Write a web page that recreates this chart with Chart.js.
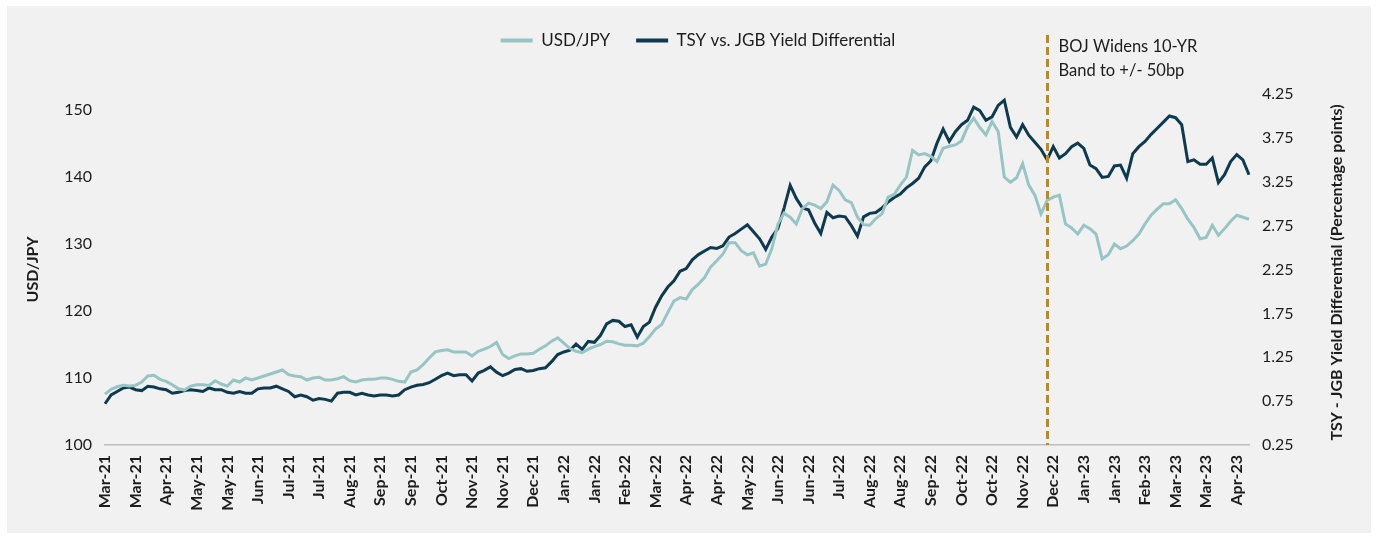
<!DOCTYPE html>
<html>
<head>
<meta charset="utf-8">
<script src="https://cdn.jsdelivr.net/npm/chart.js@4.4.1/dist/chart.umd.min.js"></script>
<style>
    html, body { margin: 0; padding: 0; background: #fff; }
    #panel { position: absolute; left: 7px; top: 6px; width: 1364px; height: 527px; background: #f1f1f1; }
    #wrap { position: absolute; left: 0; top: 0; width: 1377px; height: 538px; }
</style>
</head>
<body>
<div id="panel"></div>
<div id="wrap"><canvas id="fxChart"></canvas></div>
<script>
// ==================== DATA ====================
// one point every 3 business days, a date label every 5th point
const TICK_EVERY = 5;
const BOJ_INDEX = 154;

const tickLabels = ['Mar-21','Mar-21','Apr-21','May-21','May-21','Jun-21','Jul-21','Jul-21','Aug-21','Sep-21',
    'Sep-21','Oct-21','Nov-21','Nov-21','Dec-21','Jan-22','Jan-22','Feb-22','Mar-22','Apr-22',
    'Apr-22','May-22','Jun-22','Jun-22','Jul-22','Aug-22','Aug-22','Sep-22','Oct-22','Oct-22',
    'Nov-22','Dec-22','Jan-23','Jan-23','Feb-23','Mar-23','Mar-23','Apr-23'];

const usdJpy = [107.6,108.3,108.7,108.9,108.8,108.9,109.4,110.3,110.4,109.8,
    109.5,109.0,108.4,108.2,108.8,109.0,109.0,108.9,109.6,109.1,
    108.8,109.7,109.4,110.0,109.7,110.0,110.3,110.6,110.9,111.2,
    110.5,110.3,110.2,109.7,110.0,110.1,109.7,109.7,109.9,110.2,
    109.6,109.4,109.7,109.8,109.8,110.0,110.0,109.8,109.5,109.4,
    110.9,111.2,112.0,113.0,113.9,114.1,114.2,113.9,113.9,113.9,
    113.3,114.0,114.3,114.7,115.3,113.5,112.9,113.3,113.6,113.6,
    113.7,114.3,114.8,115.5,116.0,115.2,114.4,114.0,113.8,114.3,
    114.7,115.0,115.5,115.4,115.1,114.9,114.9,114.8,115.2,116.2,
    117.3,118.0,119.8,121.5,122.0,121.8,123.2,124.0,125.0,126.6,
    127.5,128.5,130.2,130.2,129.0,128.4,128.7,126.7,127.0,129.3,
    133.0,134.6,134.0,133.0,135.3,136.1,135.8,135.3,136.3,138.8,
    138.0,136.6,136.2,134.0,132.9,132.8,133.8,134.5,137.0,137.4,
    138.8,140.0,144.0,143.3,143.5,143.1,142.3,144.3,144.6,144.8,
    145.4,147.5,148.8,147.4,146.3,148.3,146.8,140.0,139.2,139.9,
    142.0,138.8,137.3,134.5,136.5,137.0,137.3,133.0,132.4,131.5,
    132.8,132.3,131.5,127.8,128.4,130.0,129.3,129.7,130.5,131.5,
    133.0,134.3,135.2,136.0,136.0,136.6,135.3,133.7,132.5,130.8,
    131.0,132.8,131.3,132.3,133.4,134.3,134.0,133.7];

const yieldDiff = [0.72,0.82,0.86,0.90,0.91,0.88,0.87,0.92,0.91,0.89,
    0.88,0.84,0.85,0.87,0.88,0.87,0.86,0.90,0.88,0.88,
    0.85,0.84,0.86,0.84,0.84,0.89,0.90,0.90,0.92,0.89,
    0.86,0.80,0.82,0.80,0.76,0.78,0.77,0.75,0.84,0.85,
    0.85,0.82,0.84,0.82,0.81,0.82,0.82,0.81,0.82,0.88,
    0.91,0.93,0.94,0.96,1.00,1.04,1.07,1.04,1.05,1.05,
    0.98,1.07,1.10,1.14,1.08,1.04,1.07,1.11,1.12,1.09,
    1.10,1.12,1.13,1.20,1.28,1.31,1.33,1.40,1.34,1.43,
    1.42,1.50,1.63,1.67,1.66,1.60,1.62,1.48,1.60,1.65,
    1.82,1.95,2.05,2.12,2.23,2.26,2.36,2.42,2.46,2.50,
    2.49,2.52,2.62,2.66,2.71,2.76,2.68,2.60,2.48,2.62,
    2.72,2.95,3.21,3.06,2.95,2.93,2.78,2.66,2.90,2.84,
    2.86,2.85,2.75,2.63,2.85,2.89,2.90,2.95,3.02,3.07,
    3.11,3.18,3.23,3.29,3.42,3.49,3.69,3.85,3.71,3.82,
    3.90,3.95,4.10,4.06,3.95,3.99,4.12,4.18,3.87,3.76,
    3.90,3.78,3.70,3.62,3.50,3.65,3.52,3.57,3.65,3.69,
    3.63,3.44,3.40,3.30,3.31,3.43,3.44,3.29,3.57,3.65,
    3.71,3.79,3.86,3.93,4.00,3.98,3.90,3.48,3.50,3.45,
    3.45,3.52,3.24,3.33,3.48,3.56,3.50,3.33];

const labels = usdJpy.map((_, i) => i % TICK_EVERY === 0 ? tickLabels[i / TICK_EVERY] : '');

// ==================== STYLE ====================
const FONT = 'Lato, "Open Sans", sans-serif';
const TEXT = '#1c1c1c';
const LIGHT = '#97c5c4';
const DARK = '#0d3a4f';
const GOLD = '#b98a2e';

// ==================== PLUGINS ====================
// push the plot area down below the legend
const legendGap = {
    id: 'legendGap',
    afterInit(chart) {
        const fit = chart.legend.fit;
        chart.legend.fit = function () {
            fit.call(this);
            this.height += 35;
        };
    }
};

// BOJ marker + right axis title (reads bottom to top)
const extras = {
    id: 'extras',
    afterDatasetsDraw(chart) {
        const { ctx, chartArea, scales } = chart;
        const x = Math.round(scales.x.getPixelForValue(BOJ_INDEX)) + 0.5;

        ctx.save();
        ctx.strokeStyle = GOLD;
        ctx.lineWidth = 3;
        ctx.setLineDash([8, 4]);
        ctx.beginPath();
        ctx.moveTo(x, 35);
        ctx.lineTo(x, chartArea.bottom);
        ctx.stroke();
        ctx.setLineDash([]);

        ctx.fillStyle = TEXT;
        ctx.font = '16.5px ' + FONT;
        ctx.textAlign = 'left';
        ctx.textBaseline = 'middle';
        ctx.fillText('BOJ Widens 10-YR', x + 11, 47);
        ctx.fillText('Band to +/- 50bp', x + 11, 71);

        ctx.translate(1337, (chartArea.top + chartArea.bottom) / 2 + 3);
        ctx.rotate(-Math.PI / 2);
        ctx.textAlign = 'center';
        ctx.font = 'bold 16px ' + FONT;
        ctx.fillText('TSY - JGB Yield Differential (Percentage points)', 0, 0);
        ctx.restore();
    }
};

// ==================== CHART ====================
const ctx = document.getElementById('fxChart').getContext('2d');

new Chart(ctx, {
    type: 'line',
    data: {
        labels: labels,
        datasets: [{
            label: 'USD/JPY',
            data: usdJpy,
            yAxisID: 'y',
            borderColor: LIGHT,
            backgroundColor: LIGHT,
            borderWidth: 3,
            pointRadius: 0,
            tension: 0,
        }, {
            label: 'TSY vs. JGB Yield Differential',
            data: yieldDiff,
            yAxisID: 'y2',
            borderColor: DARK,
            backgroundColor: DARK,
            borderWidth: 3,
            pointRadius: 0,
            tension: 0,
        }]
    },
    options: {
        responsive: true,
        maintainAspectRatio: false,
        animation: false,
        layout: { padding: { top: 6, left: 19, right: 0, bottom: 0 } },
        plugins: {
            legend: {
                position: 'top',
                align: 'center',
                labels: {
                    color: TEXT,
                    font: { family: FONT, size: 17 },
                    boxWidth: 32,
                    boxHeight: 4,
                    padding: 26,
                    generateLabels: (chart) => Chart.defaults.plugins.legend.labels.generateLabels(chart)
                        .map(l => ({ ...l, lineWidth: 0, fillStyle: l.strokeStyle }))
                }
            },
            tooltip: { enabled: false }
        },
        scales: {
            x: {
                type: 'category',
                offset: false,
                grid: { display: false, drawTicks: false },
                border: { display: true, color: '#bdbdbd', width: 1.5 },
                ticks: {
                    autoSkip: false,
                    minRotation: 90,
                    maxRotation: 90,
                    padding: 10,
                    color: TEXT,
                    font: { family: FONT, size: 16, weight: 'bold' }
                },
                afterFit: (scale) => { scale.height = 93; }
            },
            y: {
                position: 'left',
                min: 100,
                max: 152.4,
                grid: { display: false, drawTicks: false },
                border: { display: false },
                ticks: {
                    stepSize: 10,
                    includeBounds: false,
                    padding: 13,
                    color: TEXT,
                    font: { family: FONT, size: 16 }
                },
                title: {
                    display: true,
                    text: 'USD/JPY',
                    color: TEXT,
                    font: { family: FONT, size: 16, weight: 'bold' }
                },
                afterFit: (scale) => { scale.width = 86; }
            },
            y2: {
                position: 'right',
                min: 0.25,
                max: 4.25,
                grid: { display: false, drawTicks: false },
                border: { display: false },
                ticks: {
                    stepSize: 0.5,
                    padding: 13,
                    color: TEXT,
                    font: { family: FONT, size: 16 },
                    callback: v => v.toFixed(2)
                },
                afterFit: (scale) => { scale.width = 128; }
            }
        }
    },
    plugins: [legendGap, extras]
});
</script>
</body>
</html>
